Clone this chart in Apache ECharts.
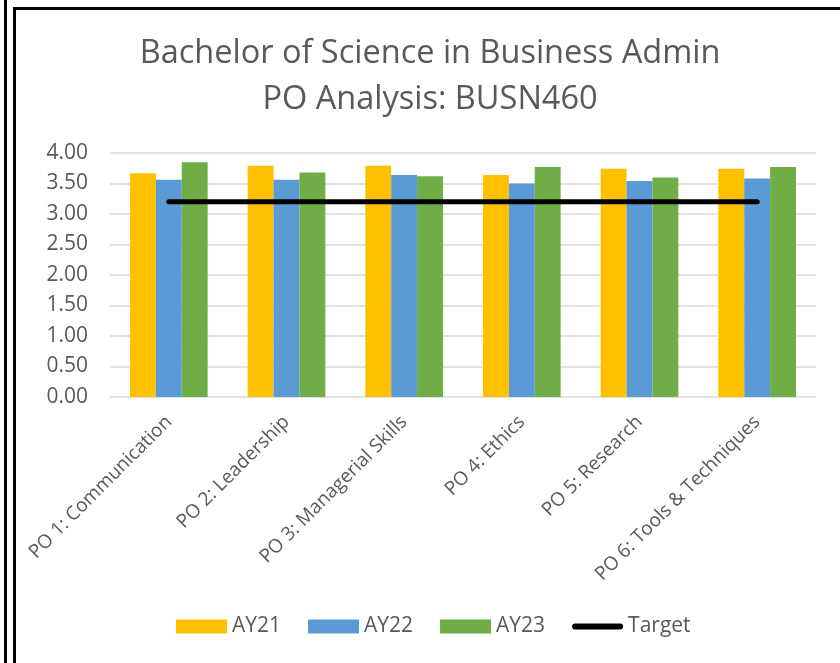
<!DOCTYPE html>
<html>
<head>
<meta charset="utf-8">
<script src="https://cdn.jsdelivr.net/npm/echarts@6/dist/echarts.min.js"></script>
<style>
    body { margin: 0; background: #fff; }
    #chart { position: absolute; left: 0; top: 0; width: 840px; height: 663px; }
    .rule1 { position: absolute; left: 4px; top: 0; width: 3px; height: 663px; background: #000; }
    .frame { position: absolute; left: 13px; top: 7px; width: 827px; height: 656px;
             border-left: 3px solid #000; border-top: 3px solid #000; box-sizing: border-box; pointer-events: none; }
</style>
</head>
<body>
<div id="chart"></div>
<div class="rule1"></div>
<div class="frame"></div>
<script>
// 数据
const categories = [
    "PO 1: Communication",
    "PO 2: Leadership",
    "PO 3: Managerial Skills",
    "PO 4: Ethics",
    "PO 5: Research",
    "PO 6: Tools & Techniques",
];
const ay21 = [3.67, 3.79, 3.79, 3.64, 3.74, 3.74];
const ay22 = [3.56, 3.56, 3.64, 3.5, 3.54, 3.58];
const ay23 = [3.85, 3.68, 3.62, 3.77, 3.6, 3.77];
const target = [3.2, 3.2, 3.2, 3.2, 3.2, 3.2];

const font = "'Open Sans', sans-serif";
const grey = "#595959";

const myChart = echarts.init(document.getElementById("chart"));

const barSeries = (name, data, color) => ({
    name: name,
    type: "bar",
    data: data,
    barGap: "0%",
    barCategoryGap: "34%",
    itemStyle: { color: color },
});

// 图例里的目标线：圆头粗线
const lineIcon =
    "path://M0,0 M51,14 M3,4 L48,4 A3,3 0 0 1 48,10 L3,10 A3,3 0 0 1 3,4 Z";

const option = {
    animation: false,
    title: {
        text: "Bachelor of Science in Business Admin\nPO Analysis: BUSN460",
        left: 425,
        textAlign: "center",
        top: 26,
        textStyle: {
            fontFamily: font,
            fontSize: 32.5,
            fontWeight: "normal",
            color: grey,
            lineHeight: 46,
        },
    },
    legend: {
        left: 176,
        top: 616,
        padding: 0,
        itemWidth: 51,
        itemHeight: 14,
        itemGap: 27,
        textStyle: { fontFamily: font, fontSize: 21, color: grey },
        data: [
            { name: "AY21", icon: "rect" },
            { name: "AY22", icon: "rect" },
            { name: "AY23", icon: "rect" },
            { name: "Target", icon: lineIcon },
        ],
    },
    grid: {
        left: 110,
        right: 24,
        top: 153,
        bottom: 266,
    },
    xAxis: {
        type: "category",
        data: categories,
        axisLine: { show: false },
        axisTick: { show: false },
        axisLabel: {
            rotate: 45,
            margin: 22,
            fontFamily: font,
            fontSize: 19,
            color: grey,
            interval: 0,
        },
    },
    yAxis: {
        type: "value",
        min: 0,
        max: 4,
        interval: 0.5,
        axisLabel: {
            formatter: (v) => v.toFixed(2),
            fontFamily: font,
            fontSize: 21,
            color: grey,
            margin: 22,
        },
        splitLine: { lineStyle: { color: "#d9d9d9", width: 1.5 } },
    },
    series: [
        barSeries("AY21", ay21, "#FFC000"),
        barSeries("AY22", ay22, "#5B9BD5"),
        barSeries("AY23", ay23, "#70AD47"),
        {
            name: "Target",
            type: "line",
            data: target,
            symbol: "none",
            itemStyle: { color: "#000" },
            lineStyle: { color: "#000", width: 5, cap: "round" },
            z: 5,
        },
    ],
};

myChart.setOption(option);
</script>
</body>
</html>
